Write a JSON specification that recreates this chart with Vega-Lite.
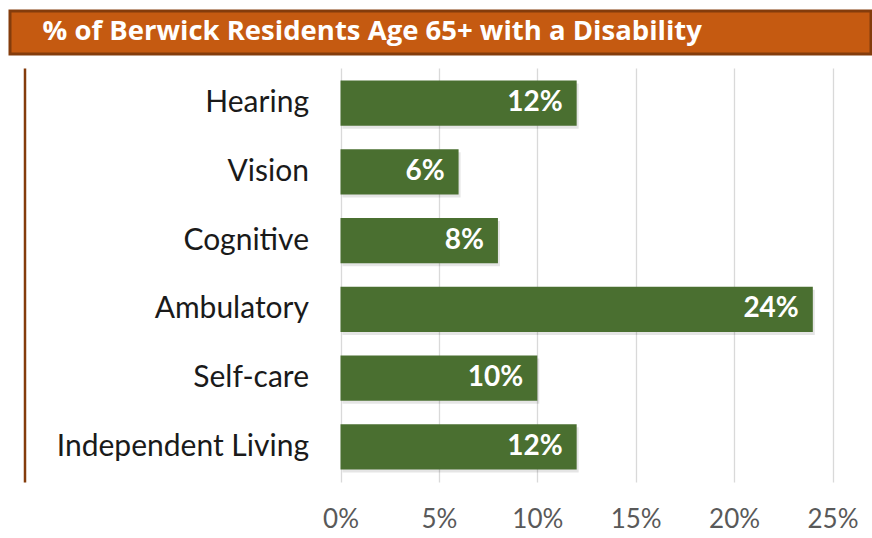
{
  "$schema": "https://vega.github.io/schema/vega-lite/v6.json",
  "padding": {"left": 8, "top": 9, "right": 0, "bottom": 0},
  "background": "white",
  "spacing": 12,
  "config": {
    "font": "Lato",
    "view": {"stroke": null}
  },
  "datasets": {
    "disability": [
      {"type": "Hearing", "pct": 0.12},
      {"type": "Vision", "pct": 0.06},
      {"type": "Cognitive", "pct": 0.08},
      {"type": "Ambulatory", "pct": 0.24},
      {"type": "Self-care", "pct": 0.10},
      {"type": "Independent Living", "pct": 0.12}
    ],
    "heading": [
      {"label": "% of Berwick Residents Age 65+ with a Disability"}
    ]
  },
  "vconcat": [
    {
      "width": 861,
      "height": 43,
      "view": {"fill": "#C55A11", "stroke": "#843C0C", "strokeWidth": 3},
      "data": {"name": "heading"},
      "mark": {
        "type": "text",
        "align": "left",
        "baseline": "alphabetic",
        "color": "white",
        "font": "Open Sans",
        "fontSize": 27.5,
        "fontWeight": "bold"
      },
      "encoding": {
        "text": {"field": "label"},
        "x": {"value": 32.5},
        "y": {"value": 29}
      }
    },
    {
      "width": 823,
      "height": 414,
      "data": {"name": "disability"},
      "encoding": {
        "y": {
          "field": "type",
          "type": "nominal",
          "sort": null,
          "scale": {"paddingInner": 0.34, "paddingOuter": 0.18},
          "axis": {
            "title": null,
            "orient": "left",
            "offset": -14.5,
            "domain": true,
            "domainColor": "#843C0C",
            "domainWidth": 2.5,
            "ticks": false,
            "grid": false,
            "labelFont": "Lato",
            "labelFontSize": 30,
            "labelColor": "#1A1A1A",
            "labelAlign": "right",
            "labelPadding": -284,
            "labelLimit": 400
          }
        },
        "x": {
          "field": "pct",
          "type": "quantitative",
          "scale": {"domain": [0, 0.25], "nice": false, "range": [330.5, 822.5]},
          "axis": {
            "values": [0, 0.05, 0.1, 0.15, 0.2, 0.25],
            "format": ".0%",
            "title": null,
            "domain": false,
            "ticks": false,
            "grid": true,
            "gridColor": "#D9D9D9",
            "gridWidth": 1.3,
            "labelFont": "Lato",
            "labelFontSize": 26,
            "labelColor": "#595959",
            "labelPadding": 24,
            "labelFlush": false
          }
        }
      },
      "layer": [
        {
          "mark": {"type": "bar", "color": "#000000", "opacity": 0.1, "xOffset": 2, "yOffset": 3}
        },
        {
          "mark": {"type": "bar", "color": "#4A6F30"}
        },
        {
          "mark": {
            "type": "text",
            "align": "right",
            "baseline": "middle",
            "dx": -14,
            "color": "white",
            "font": "Lato",
            "fontSize": 28,
            "fontWeight": "bold"
          },
          "encoding": {
            "text": {"field": "pct", "type": "quantitative", "format": ".0%"}
          }
        }
      ]
    }
  ]
}
